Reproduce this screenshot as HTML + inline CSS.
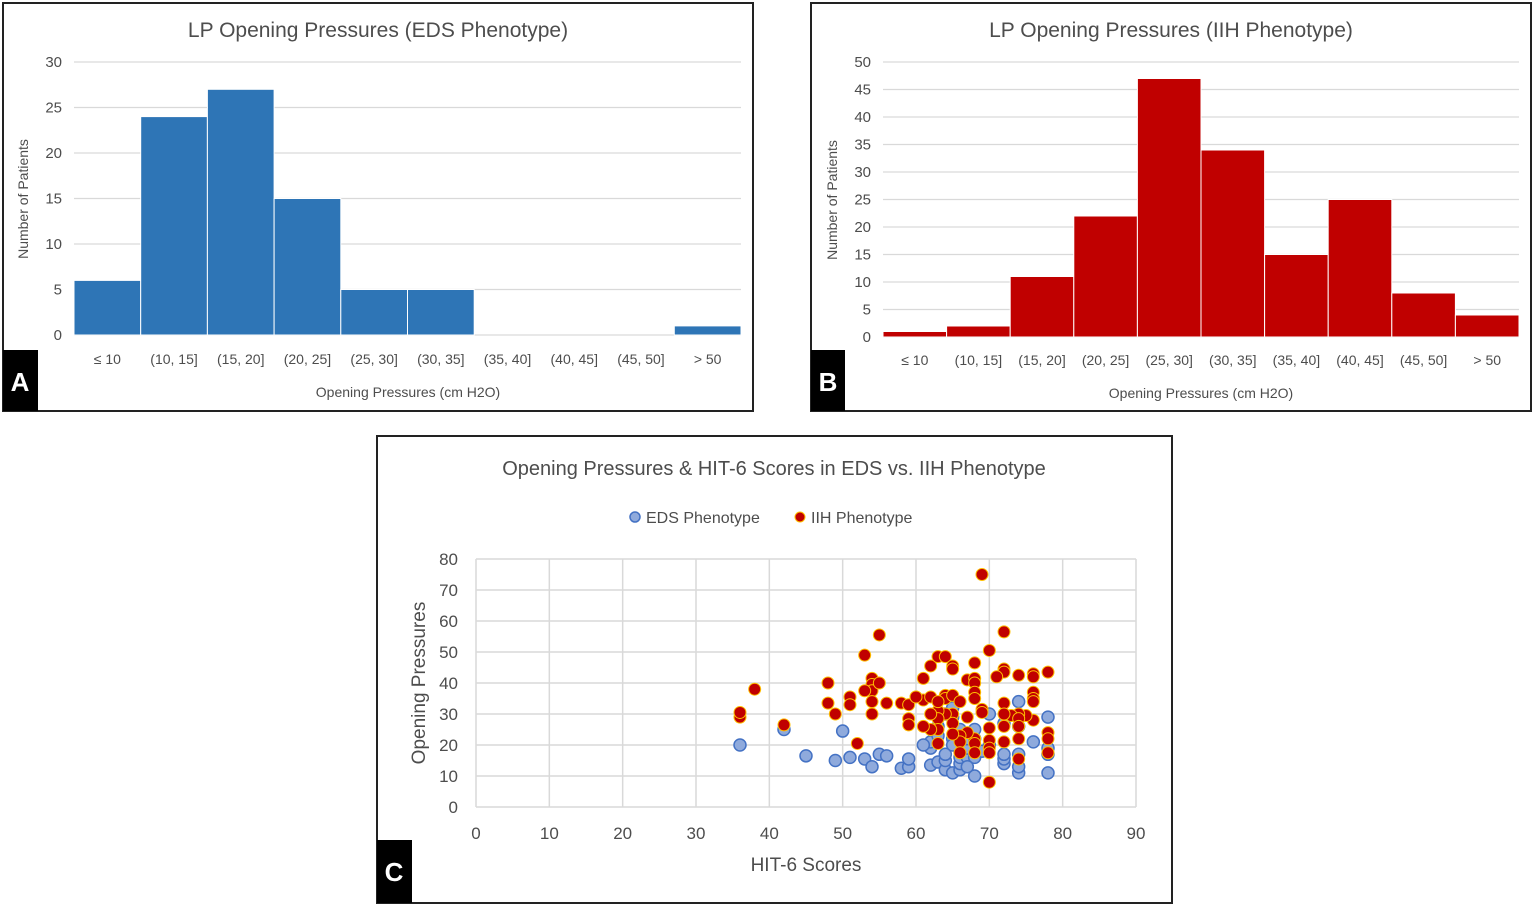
<!DOCTYPE html>
<html><head><meta charset="utf-8"><style>
body{margin:0;background:#fff}
text{font-family:"Liberation Sans",sans-serif;fill:#4d4d4d}
</style></head><body>
<svg id="s" width="1535" height="907" xmlns="http://www.w3.org/2000/svg">
<rect x="0" y="0" width="1535" height="907" fill="#fff"/>
<rect x="3" y="3" width="750" height="408" fill="none" stroke="#222" stroke-width="2"/>
<text x="378" y="37" font-size="21" text-anchor="middle">LP Opening Pressures (EDS Phenotype)</text>
<g id="gA"></g>
<text x="408" y="397" font-size="14" text-anchor="middle">Opening Pressures (cm H2O)</text>
<text transform="translate(28,199) rotate(-90)" font-size="14" text-anchor="middle">Number of Patients</text>
<rect x="3" y="350" width="35" height="61" fill="#000"/>
<text x="20" y="391" font-size="26" font-weight="bold" text-anchor="middle" style="fill:#fff">A</text>
<rect x="811" y="3" width="720" height="408" fill="none" stroke="#222" stroke-width="2"/>
<text x="1171" y="37" font-size="21" text-anchor="middle">LP Opening Pressures (IIH Phenotype)</text>
<g id="gB"></g>
<text x="1201" y="398" font-size="14" text-anchor="middle">Opening Pressures (cm H2O)</text>
<text transform="translate(837,200) rotate(-90)" font-size="14" text-anchor="middle">Number of Patients</text>
<rect x="811" y="350" width="34" height="61" fill="#000"/>
<text x="828" y="391" font-size="26" font-weight="bold" text-anchor="middle" style="fill:#fff">B</text>
<rect x="377" y="436" width="795" height="467" fill="none" stroke="#222" stroke-width="2"/>
<text x="774" y="475" font-size="20" text-anchor="middle">Opening Pressures &amp; HIT-6 Scores in EDS vs. IIH Phenotype</text>
<circle cx="635" cy="517" r="5" fill="#8faadc" stroke="#4472c4" stroke-width="1.5"/>
<text x="646" y="523" font-size="16">EDS Phenotype</text>
<circle cx="800" cy="517" r="5" fill="#c00000" stroke="#ffc000" stroke-width="1"/>
<text x="811" y="523" font-size="16">IIH Phenotype</text>
<g id="gC"></g>
<text x="806" y="871" font-size="19" text-anchor="middle">HIT-6 Scores</text>
<text transform="translate(425,683) rotate(-90)" font-size="19" text-anchor="middle">Opening Pressures</text>
<rect x="377" y="840" width="35" height="63" fill="#000"/>
<text x="394" y="881" font-size="26" font-weight="bold" text-anchor="middle" style="fill:#fff">C</text>
</svg>
<script>
var NS="http://www.w3.org/2000/svg";
function el(p,t,a,txt){var e=document.createElementNS(NS,t);for(var k in a)e.setAttribute(k,a[k]);if(txt!=null)e.textContent=txt;document.getElementById(p).appendChild(e);return e;}
var cats=["≤ 10","(10, 15]","(15, 20]","(20, 25]","(25, 30]","(30, 35]","(35, 40]","(40, 45]","(45, 50]","> 50"];
function hist(g,x0,x1,yt,yb,max,step,data,col,laby){
  var h=yb-yt;
  for(var v=0;v<=max;v+=step){var y=yb-v/max*h;
    el(g,"line",{x1:x0,x2:x1,y1:y,y2:y,stroke:"#d9d9d9","stroke-width":1.2});
    el(g,"text",{x:x0-12,y:y+5,"font-size":15,"text-anchor":"end"},v);}
  var w=(x1-x0)/10;
  for(var i=0;i<10;i++){var bh=data[i]/max*h;
    if(bh>0)el(g,"rect",{x:x0+i*w,y:yb-bh,width:w,height:bh,fill:col,stroke:"#fff","stroke-width":1});
    el(g,"text",{x:x0+i*w+w/2,y:laby,"font-size":14,"text-anchor":"middle"},cats[i]);}
}
hist("gA",74,741,62,335,30,5,[6,24,27,15,5,5,0,0,0,1],"#2e75b6",364);
hist("gB",883,1519,62,337,50,5,[1,2,11,22,47,34,15,25,8,4],"#c00000",365);
var X0=476,X1=1136,Y0=807,Y1=559;
function px(x){return X0+x/90*(X1-X0)} function py(y){return Y0-y/80*(Y0-Y1)}
for(var v=0;v<=80;v+=10){el("gC","line",{x1:X0,x2:X1,y1:py(v),y2:py(v),stroke:"#d9d9d9","stroke-width":1.5});
  el("gC","text",{x:458,y:py(v)+6,"font-size":17,"text-anchor":"end"},v);}
for(var v=0;v<=90;v+=10){el("gC","line",{x1:px(v),x2:px(v),y1:Y1,y2:Y0,stroke:"#d9d9d9","stroke-width":1.5});
  el("gC","text",{x:px(v),y:839,"font-size":17,"text-anchor":"middle"},v);}
var B=[[36,20],[42,25],[45,16.5],[49,15],[50,24.5],[51,16],[53,15.5],[54,13],[55,17],[56,16.5],[58,12.5],[59,13],[59,15.5],[62,13.5],[62,19],[62,21],[63,14.5],[63,26],[64,12],[64,15],[64,17],[64,30],[65,11],[65,22],[65,29],[65,32],[66,12],[66,14],[66,16],[66,18],[66,25],[67,16],[67,19],[67,22],[68,10],[68,16],[68,22],[68,25],[69,18],[70,20],[70,30],[72,14],[72,15.5],[72,17],[72,27],[74,11],[74,13],[74,17],[74,26],[74,34],[76,21],[78,11],[78,19],[78,29],[78,17],[63,23],[65,20],[67,13],[61,20]];
var R=[[36,29],[36,30.5],[38,38],[42,26.5],[52,20.5],[55,55.5],[53,49],[48,40],[48,33.5],[49,30],[51,35.5],[51,33],[54,41.5],[54,39.5],[54,37.5],[55,40],[53,37.5],[54,34],[54,30],[56,33.5],[58,33.5],[59,33],[59,28.5],[59,26.5],[60,35.5],[61,41.5],[62,45.5],[63,48.5],[64,48.5],[65,45.5],[65,44.5],[68,46.5],[67,41],[68,41.5],[68,40],[68,37],[68,35],[69,31.5],[69,75],[70,50.5],[72,56.5],[72,44.5],[72,43.5],[71,42],[74,42.5],[76,43],[76,42],[78,43.5],[76,37],[76,35],[76,34],[76,28],[75,29.5],[74,30],[73,29.5],[72,33.5],[72,30],[72,26],[72,21],[74,28.5],[74,26],[74,22],[74,15.5],[78,24],[78,22],[78,17.5],[70,25.5],[70,21.5],[70,19],[70,17.5],[70,8],[68,22],[68,20.5],[68,17.5],[67,24],[66,23],[66,21],[66,17.5],[65,30],[65,27],[65,23.5],[64,36],[64,35],[64,30],[63,31],[63,28.5],[63,25],[63,20.5],[62,30],[62,25],[61,34.5],[61,26],[62,35.5],[65,36],[66,34],[67,29],[69,30.5],[63,34],[60,35.5]];
B.forEach(function(p){el("gC","circle",{cx:px(p[0]),cy:py(p[1]),r:6,fill:"#8faadc",stroke:"#4472c4","stroke-width":1.5})});
R.forEach(function(p){el("gC","circle",{cx:px(p[0]),cy:py(p[1]),r:6,fill:"#c00000",stroke:"#ffc000","stroke-width":1})});
</script>
</body></html>
